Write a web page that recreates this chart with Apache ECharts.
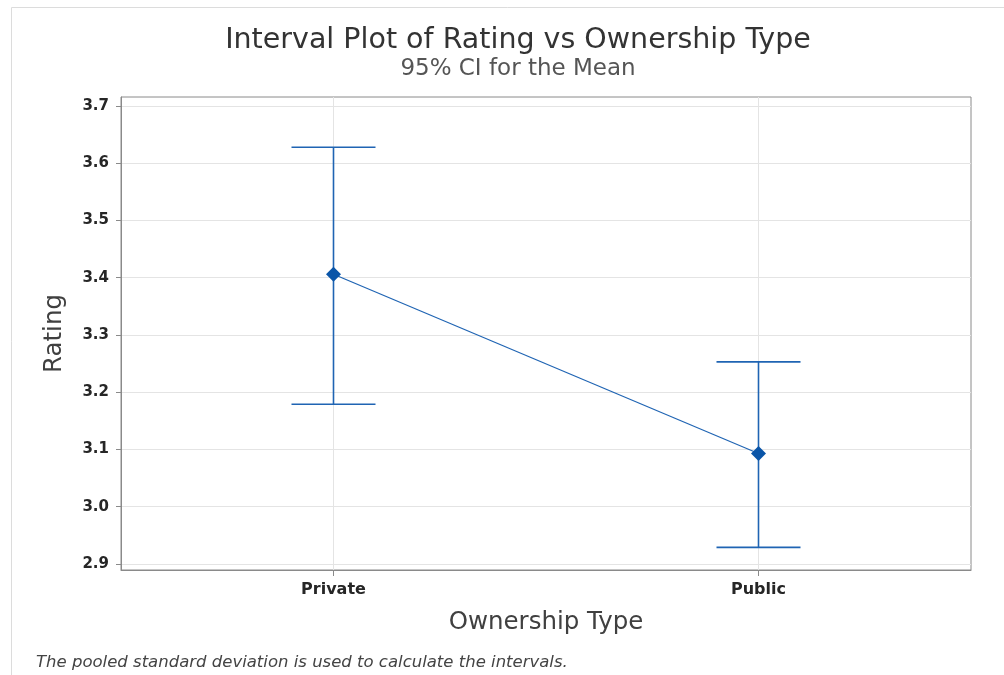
<!DOCTYPE html>
<html>
<head>
<meta charset="utf-8">
<script src="https://cdn.jsdelivr.net/npm/echarts@6/dist/echarts.min.js"></script>
<style>
  html, body { margin: 0; padding: 0; background: #fff; }
  #chart { width: 1004px; height: 675px; }
</style>
</head>
<body>
<div id="chart"></div>
<script>
// Ownership groups and their mean ratings with 95% confidence bounds
const categories = ['Private', 'Public'];
const means = [3.406, 3.093];
const lowerCI = [3.179, 2.929];
const upperCI = [3.628, 3.253];
const yTicks = [2.9, 3.0, 3.1, 3.2, 3.3, 3.4, 3.5, 3.6, 3.7];

const FONT = '"DejaVu Sans", "Open Sans", sans-serif';
const BLUE = '#1f64b3';

// Each group sits in the middle of its slot on a 0..n value axis
const xPos = categories.map((c, i) => i + 0.5);
const meanData = means.map((m, i) => [xPos[i], m]);
const ciData = categories.map((c, i) => [xPos[i], lowerCI[i], upperCI[i]]);

const chart = echarts.init(document.getElementById('chart'), null, { renderer: 'canvas' });

chart.setOption({
  animation: false,
  backgroundColor: '#fff',
  textStyle: { fontFamily: FONT },
  title: [
    {
      text: 'Interval Plot of Rating vs Ownership Type',
      left: 513, top: 21, textAlign: 'center',
      textStyle: { fontFamily: FONT, fontSize: 28.5, fontWeight: 'normal', color: '#333' }
    },
    {
      text: '95% CI for the Mean',
      left: 513, top: 53, textAlign: 'center',
      textStyle: { fontFamily: FONT, fontSize: 23, fontWeight: 'normal', color: '#555' }
    },
    {
      text: 'The pooled standard deviation is used to calculate the intervals.',
      left: 31, top: 649,
      textStyle: { fontFamily: FONT, fontSize: 16.5, fontStyle: 'italic', fontWeight: 'normal', color: '#444' }
    }
  ],
  graphic: [
    {
      type: 'polyline', silent: true,
      shape: { points: [[11.5, 675], [11.5, 7.5], [1004, 7.5]] },
      style: { stroke: '#dcdcdc', lineWidth: 1, fill: null }
    }
  ],
  grid: {
    left: 121, right: 33, top: 97, bottom: 105,
    show: true, borderColor: '#8a8a8a', borderWidth: 1, backgroundColor: '#fff'
  },
  xAxis: {
    type: 'value',
    min: 0, max: categories.length,
    name: 'Ownership Type',
    nameLocation: 'middle', nameGap: 40,
    nameTextStyle: { fontFamily: FONT, fontSize: 24.5, color: '#404040' },
    axisLine: { show: true, lineStyle: { color: '#8a8a8a', width: 1 } },
    axisTick: { show: true, length: 6, customValues: xPos, lineStyle: { color: '#8a8a8a' } },
    axisLabel: {
      customValues: xPos, margin: 12,
      fontFamily: FONT, fontSize: 16, fontWeight: 'bold', color: '#262626',
      formatter: v => categories[Math.round(v - 0.5)]
    },
    splitLine: { show: true, lineStyle: { color: '#e4e4e4', width: 1 } }
  },
  yAxis: {
    type: 'value',
    min: 2.8895, max: 3.7157,
    name: 'Rating',
    nameLocation: 'middle', nameGap: 54,
    nameTextStyle: { fontFamily: FONT, fontSize: 24.5, color: '#404040' },
    axisLine: { show: true, lineStyle: { color: '#8a8a8a', width: 1 } },
    axisTick: { show: true, length: 5, customValues: yTicks, lineStyle: { color: '#8a8a8a' } },
    axisLabel: {
      customValues: yTicks, margin: 12,
      fontFamily: FONT, fontSize: 15, fontWeight: 'bold', color: '#262626',
      formatter: v => v.toFixed(1)
    },
    splitLine: { show: true, lineStyle: { color: '#e4e4e4', width: 1 } }
  },
  series: [
    {
      // confidence interval whiskers with end caps
      type: 'custom',
      silent: true,
      data: ciData,
      renderItem: function (params, api) {
        const x = api.value(0);
        const lo = api.coord([x, api.value(1)]);
        const hi = api.coord([x, api.value(2)]);
        const half = 42;
        const style = { stroke: BLUE, lineWidth: 1.6 };
        return {
          type: 'group',
          children: [
            { type: 'line', shape: { x1: lo[0], y1: lo[1], x2: hi[0], y2: hi[1] }, style },
            { type: 'line', shape: { x1: hi[0] - half, y1: hi[1], x2: hi[0] + half, y2: hi[1] }, style },
            { type: 'line', shape: { x1: lo[0] - half, y1: lo[1], x2: lo[0] + half, y2: lo[1] }, style }
          ]
        };
      },
      z: 3
    },
    {
      // group means joined by a connecting line
      type: 'line',
      data: meanData,
      symbol: 'diamond',
      symbolSize: 15,
      lineStyle: { color: BLUE, width: 1.2 },
      itemStyle: { color: '#0a55a8' },
      z: 4
    }
  ]
});
</script>
</body>
</html>
